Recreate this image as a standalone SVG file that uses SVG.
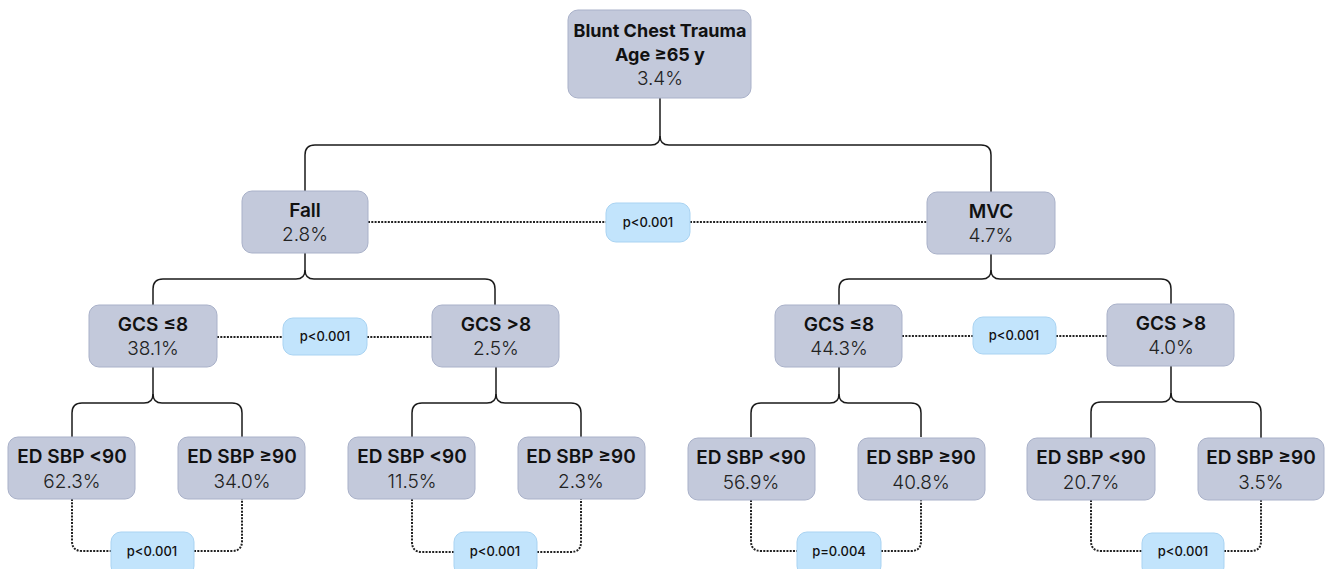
<svg xmlns="http://www.w3.org/2000/svg" width="1331" height="569" viewBox="0 0 1331 569">
<style>
.box{fill:#c3c9db;stroke:#a9b1c9;stroke-width:1}
.pill{fill:#c2e4fc;stroke:#a9d3f2;stroke-width:1}
.t{font-family:Inter,"Noto Sans",sans-serif;font-size:19px;font-weight:600;fill:#111;text-anchor:middle}
.r{font-family:Inter,"Noto Sans",sans-serif;font-size:19px;font-weight:300;fill:#222;text-anchor:middle}
.rt{font-family:Inter,"Noto Sans",sans-serif;font-size:18px;font-weight:700;fill:#111;text-anchor:middle}
.p{font-family:Inter,"Noto Sans",sans-serif;font-size:13px;font-weight:500;fill:#111;text-anchor:middle}
.solid{fill:none;stroke:#1a1a1a;stroke-width:1.5}
.dot{fill:none;stroke:#222;stroke-width:2;stroke-dasharray:2 1.3}
</style>
<g id="connectors">
<path class="solid" d="M660,98 V136 Q660,145 651,145 H315 Q305,145 305,155 V191"/>
<path class="solid" d="M660,136 Q660,145 669,145 H981 Q991,145 991,155 V192"/>
<path class="solid" d="M305,253 V270 Q305,279 296,279 H163 Q153,279 153,289 V305"/>
<path class="solid" d="M305,270 Q305,279 314,279 H485 Q495,279 495,289 V305"/>
<path class="solid" d="M991,254 V270 Q991,279 982,279 H849 Q839,279 839,289 V305"/>
<path class="solid" d="M991,270 Q991,279 1000,279 H1161 Q1171,279 1171,289 V304"/>
<path class="solid" d="M153,367 V394 Q153,403 144,403 H82 Q72,403 72,413 V437"/>
<path class="solid" d="M153,394 Q153,403 162,403 H232 Q242,403 242,413 V437"/>
<path class="solid" d="M496,367 V394 Q496,403 487,403 H422 Q412,403 412,413 V437"/>
<path class="solid" d="M496,394 Q496,403 505,403 H571 Q581,403 581,413 V437"/>
<path class="solid" d="M839,367 V394 Q839,403 830,403 H761 Q751,403 751,413 V437"/>
<path class="solid" d="M839,394 Q839,403 848,403 H911 Q921,403 921,413 V437"/>
<path class="solid" d="M1171,366 V393 Q1171,402 1162,402 H1101 Q1091,402 1091,412 V438"/>
<path class="solid" d="M1171,393 Q1171,402 1180,402 H1251 Q1261,402 1261,412 V438"/>
<path class="dot" d="M368,222 H606 M690,222 H927"/>
<path class="dot" d="M217,337 H283 M367,337 H432"/>
<path class="dot" d="M902,336 H973 M1056,336 H1107"/>
<path class="dot" d="M72,499 V541 Q72,551 82,551 H111 M194,551 H232 Q242,551 242,541 V499"/>
<path class="dot" d="M412,499 V542 Q412,552 422,552 H454 M537,552 H571 Q581,552 581,542 V499"/>
<path class="dot" d="M751,500 V541 Q751,551 761,551 H797 M881,551 H911 Q921,551 921,541 V500"/>
<path class="dot" d="M1091,500 V541 Q1091,551 1101,551 H1142 M1224,551 H1251 Q1261,551 1261,541 V500"/>
</g>
<g id="root"><rect class="box" x="568" y="10" width="183" height="88" rx="10"/><text class="rt" x="660" y="37">Blunt Chest Trauma</text><text class="rt" x="660" y="61">Age ≥65 y</text><text class="r" x="660" y="85">3.4%</text></g>
<g id="fall"><rect class="box" x="242" y="191" width="126" height="62" rx="10"/><text class="t" x="305" y="217">Fall</text><text class="r" x="305" y="241">2.8%</text></g>
<g id="mvc"><rect class="box" x="927" y="192" width="128" height="62" rx="10"/><text class="t" x="991" y="218">MVC</text><text class="r" x="991" y="242">4.7%</text></g>
<g id="gcs-le8-fall"><rect class="box" x="89" y="305" width="128" height="62" rx="10"/><text class="t" x="153" y="331">GCS ≤8</text><text class="r" x="153" y="355">38.1%</text></g>
<g id="gcs-gt8-fall"><rect class="box" x="432" y="305" width="127" height="62" rx="10"/><text class="t" x="496" y="331">GCS &gt;8</text><text class="r" x="496" y="355">2.5%</text></g>
<g id="gcs-le8-mvc"><rect class="box" x="775" y="305" width="127" height="62" rx="10"/><text class="t" x="839" y="331">GCS ≤8</text><text class="r" x="839" y="355">44.3%</text></g>
<g id="gcs-gt8-mvc"><rect class="box" x="1107" y="304" width="127" height="62" rx="10"/><text class="t" x="1171" y="330">GCS &gt;8</text><text class="r" x="1171" y="354">4.0%</text></g>
<g id="ed1"><rect class="box" x="8" y="437" width="127" height="62" rx="10"/><text class="t" x="72" y="463">ED SBP &lt;90</text><text class="r" x="72" y="488">62.3%</text></g>
<g id="ed2"><rect class="box" x="178" y="437" width="127" height="62" rx="10"/><text class="t" x="242" y="463">ED SBP ≥90</text><text class="r" x="242" y="488">34.0%</text></g>
<g id="ed3"><rect class="box" x="348" y="437" width="127" height="62" rx="10"/><text class="t" x="412" y="463">ED SBP &lt;90</text><text class="r" x="412" y="488">11.5%</text></g>
<g id="ed4"><rect class="box" x="518" y="437" width="127" height="62" rx="10"/><text class="t" x="581" y="463">ED SBP ≥90</text><text class="r" x="581" y="488">2.3%</text></g>
<g id="ed5"><rect class="box" x="688" y="438" width="127" height="62" rx="10"/><text class="t" x="751" y="464">ED SBP &lt;90</text><text class="r" x="751" y="489">56.9%</text></g>
<g id="ed6"><rect class="box" x="858" y="438" width="127" height="62" rx="10"/><text class="t" x="921" y="464">ED SBP ≥90</text><text class="r" x="921" y="489">40.8%</text></g>
<g id="ed7"><rect class="box" x="1027" y="438" width="128" height="62" rx="10"/><text class="t" x="1091" y="464">ED SBP &lt;90</text><text class="r" x="1091" y="489">20.7%</text></g>
<g id="ed8"><rect class="box" x="1198" y="438" width="126" height="62" rx="10"/><text class="t" x="1261" y="464">ED SBP ≥90</text><text class="r" x="1261" y="489">3.5%</text></g>
<g id="p1"><rect class="pill" x="606" y="203" width="84" height="39" rx="10"/><text class="p" x="648" y="227">p&lt;0.001</text></g>
<g id="p2"><rect class="pill" x="283" y="318" width="84" height="37" rx="10"/><text class="p" x="325" y="341">p&lt;0.001</text></g>
<g id="p3"><rect class="pill" x="973" y="317" width="83" height="37" rx="10"/><text class="p" x="1014" y="340">p&lt;0.001</text></g>
<g id="p4"><rect class="pill" x="111" y="532" width="83" height="44" rx="10"/><text class="p" x="152" y="556">p&lt;0.001</text></g>
<g id="p5"><rect class="pill" x="454" y="532" width="83" height="44" rx="10"/><text class="p" x="495" y="556">p&lt;0.001</text></g>
<g id="p6"><rect class="pill" x="797" y="532" width="84" height="44" rx="10"/><text class="p" x="839" y="556">p=0.004</text></g>
<g id="p7"><rect class="pill" x="1142" y="533" width="82" height="44" rx="10"/><text class="p" x="1183" y="556">p&lt;0.001</text></g>
</svg>
